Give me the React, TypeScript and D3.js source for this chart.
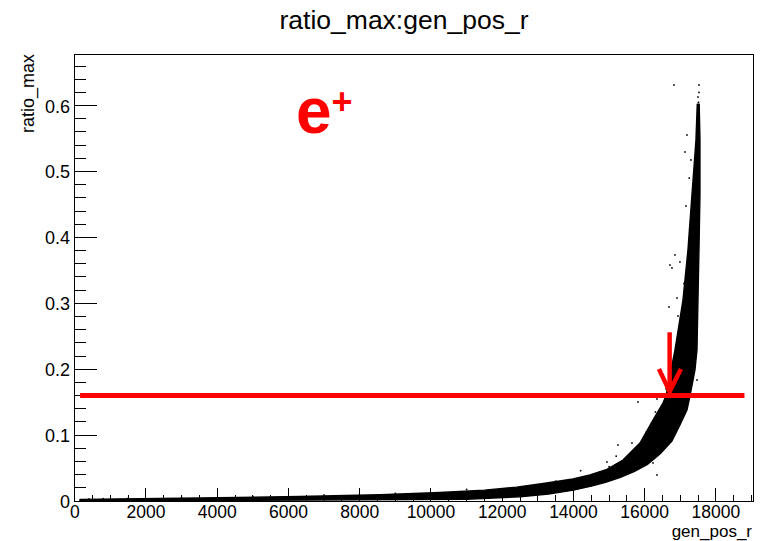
import React from 'react';
import * as d3 from 'd3';

const W = 761;
const H = 541;

// Axis ticks
const xTickValues = [0, 2000, 4000, 6000, 8000, 10000, 12000, 14000, 16000, 18000];
const yTickValues = [0, 0.1, 0.2, 0.3, 0.4, 0.5, 0.6];
const xDomain = [0, 19040];
const yDomain = [0, 0.6783];

// Dense band of points: upper/left edge (gen_pos_r, ratio_max)
const bandUpperX = [147, 3516, 6323, 8568, 10253, 11500, 12400, 13200, 13986, 14463, 14940, 15389, 15867, 16232, 16512, 16596, 16849, 17074, 17214, 17326, 17439, 17475];
const bandUpperY = [0.0025, 0.0045, 0.0068, 0.0095, 0.013, 0.0165, 0.021, 0.027, 0.0334, 0.0395, 0.048, 0.0622, 0.088, 0.1229, 0.1487, 0.1593, 0.2291, 0.305, 0.3809, 0.4643, 0.5478, 0.602];
// lower/right edge, from top back to bottom-left
const bandLowerX = [17530, 17551, 17551, 17523, 17495, 17467, 17411, 17270, 17186, 16989, 16765, 16428, 16091, 15700, 15300, 14900, 14500, 14000, 13300, 12500, 11000, 147];
const bandLowerY = [0.602, 0.5478, 0.4643, 0.3809, 0.305, 0.2291, 0.1988, 0.1593, 0.1381, 0.1153, 0.091, 0.0713, 0.0561, 0.0445, 0.0355, 0.0285, 0.0225, 0.0165, 0.0105, 0.0065, 0.0025, 0.0];

// Sparse points outside the band
const strayX = [16821, 17523, 17523, 17495, 17510, 17186, 17130, 17298, 17158, 16849, 16765, 16989, 16905, 16680, 16933, 16709, 15810, 16344, 15249, 15642, 15951, 14940, 14744, 16344, 16232, 17411, 17467, 17440, 17360, 17250, 17020, 16300, 15200, 14200, 13500, 12500, 11000, 9000, 7000, 5000, 3000, 1500, 800, 400, 16950, 17100, 16600, 16050, 15000];
const strayY = [0.6313, 0.6313, 0.62, 0.613, 0.605, 0.5554, 0.5296, 0.5175, 0.4476, 0.3733, 0.3536, 0.3627, 0.308, 0.2944, 0.2807, 0.3581, 0.1502, 0.1548, 0.085, 0.088, 0.0895, 0.0592, 0.044, 0.0395, 0.0577, 0.2094, 0.1836, 0.26, 0.42, 0.49, 0.245, 0.135, 0.068, 0.046, 0.03, 0.02, 0.0175, 0.0115, 0.009, 0.0066, 0.005, 0.004, 0.0035, 0.003, 0.185, 0.33, 0.17, 0.105, 0.052];

// Annotations
const cutValue = 0.16;
const cutFromX = 150;
const cutToX = 18800;
const arrowX = 16700;
const arrowTopY = 0.256;
const arrowTipY = 0.166;
const arrowWingY = 0.2003;
const arrowWingLeftX = 16400;
const arrowWingRightX = 17017;

export default function App() {
  const left = 74.75, right = 753, top = 54, bottom = 501;
  const x = d3.scaleLinear().domain(xDomain).range([left, right]);
  const y = d3.scaleLinear().domain(yDomain).range([bottom, top]);

  const xMinor = d3.range(0, xDomain[1], 500);
  const yMinor = d3.range(0, yDomain[1], 0.02);

  const pts: [number, number][] = [];
  bandUpperX.forEach((v, i) => pts.push([x(v), y(bandUpperY[i])]));
  bandLowerX.forEach((v, i) => pts.push([x(v), y(bandLowerY[i])]));
  const band = d3.line().curve(d3.curveLinearClosed)(pts) || '';

  const font = 'Liberation Sans, Arial, Helvetica, sans-serif';

  return (
    <svg width={W} height={H} style={{ position: 'absolute', left: 0, top: 0, background: '#fff' }} fontFamily={font}>
      <rect x={0} y={0} width={W} height={H} fill="#fff" />
      <text x={404} y={29} fontSize={26.5} textAnchor="middle" fill="#000">ratio_max:gen_pos_r</text>

      {/* data band */}
      <path d={band} fill="#000" stroke="#000" strokeWidth={1.4} strokeLinejoin="round" />
      {strayX.map((v, i) => (
        <rect key={i} x={x(v) - 0.8} y={y(strayY[i]) - 0.8} width={1.6} height={1.6} fill="#000" />
      ))}

      {/* frame */}
      <rect x={left} y={top} width={right - left} height={bottom - top} fill="none" stroke="#000" strokeWidth={1} shapeRendering="crispEdges" />

      {/* x ticks */}
      {xMinor.map((v) => (
        <line key={'xm' + v} x1={x(v)} x2={x(v)} y1={bottom} y2={bottom - (v % 2000 === 0 ? 13 : 6.5)} stroke="#000" strokeWidth={1} shapeRendering="crispEdges" />
      ))}
      {xTickValues.map((v) => (
        <text key={'xl' + v} x={x(v)} y={518} fontSize={17.5} textAnchor="middle" fill="#000">{v}</text>
      ))}
      {/* y ticks */}
      {yMinor.map((v, i) => (
        <line key={'ym' + i} x1={left} x2={left + (i % 5 === 0 ? 22 : 11)} y1={y(v)} y2={y(v)} stroke="#000" strokeWidth={1} shapeRendering="crispEdges" />
      ))}
      {yTickValues.map((v) => (
        <text key={'yl' + v} x={70} y={y(v) + 7} fontSize={18} textAnchor="end" fill="#000">{v === 0 ? '0' : v.toFixed(1)}</text>
      ))}

      {/* axis titles */}
      <text x={752} y={536.5} fontSize={17} textAnchor="end" fill="#000">gen_pos_r</text>
      <text transform={`translate(34, ${top}) rotate(-90)`} fontSize={18} textAnchor="end" fill="#000">ratio_max</text>

      {/* annotations */}
      <line x1={x(cutFromX)} x2={x(cutToX)} y1={y(cutValue)} y2={y(cutValue)} stroke="#ff0000" strokeWidth={5} />
      <line x1={x(arrowX)} x2={x(arrowX)} y1={y(arrowTopY)} y2={y(arrowTipY) - 2} stroke="#ff0000" strokeWidth={4.5} />
      <polyline points={`${x(arrowWingLeftX)},${y(arrowWingY)} ${x(arrowX)},${y(arrowTipY)} ${x(arrowWingRightX)},${y(arrowWingY)}`} fill="none" stroke="#ff0000" strokeWidth={4.5} strokeLinejoin="miter" />

      <text x={296} y={133} fontSize={64} fontWeight="bold" fill="#ff0000">e</text>
      <text x={342} y={114} fontSize={36} fontWeight="bold" textAnchor="middle" fill="#ff0000">+</text>
    </svg>
  );
}
